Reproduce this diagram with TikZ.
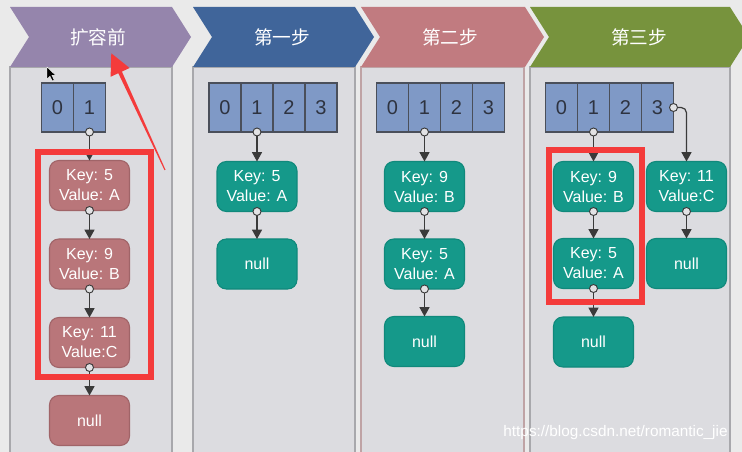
\documentclass[tikz,border=0pt]{standalone}
\usepackage{fontspec}
\setmainfont{Liberation Sans}
\newfontfamily\cjk{Noto Sans CJK SC}
\usetikzlibrary{arrows.meta}
\definecolor{bgc}{HTML}{EAEAEA}
\definecolor{panelc}{HTML}{DCDCE0}
\definecolor{panelb}{HTML}{A8A8AC}
\definecolor{panelpink}{HTML}{BFA3A5}
\definecolor{hpurple}{HTML}{9585AC}
\definecolor{hblue}{HTML}{40659A}
\definecolor{hpink}{HTML}{C17B80}
\definecolor{hgreen}{HTML}{77933D}
\definecolor{cellc}{HTML}{7F99C6}
\definecolor{cellb}{HTML}{4A4F5A}
\definecolor{digitc}{HTML}{2E3340}
\definecolor{pinknode}{HTML}{B9767A}
\definecolor{pinknodeb}{HTML}{A06468}
\definecolor{tealnode}{HTML}{15998A}
\definecolor{tealnodeb}{HTML}{10897B}
\definecolor{connc}{HTML}{3A3A3A}
\definecolor{dotc}{HTML}{E2E2E4}
\definecolor{redc}{HTML}{F43B3B}
\tikzset{
  panel/.style={fill=panelc, draw=panelb, line width=1.1pt},
  headtext/.style={text=white, font=\cjk\fontsize{14}{16}\selectfont, inner sep=0pt},
  cell/.style={draw=cellb, fill=cellc, line width=1.1pt, minimum width=24pt, minimum height=36.75pt, inner sep=0pt, outer sep=0pt, text=digitc, font=\fontsize{15}{17}\selectfont},
  entry/.style={rounded corners=7pt, minimum width=60pt, minimum height=37.5pt, inner sep=0pt, outer sep=0pt, align=center, text=white, font=\fontsize{12}{15}\selectfont, line width=0.8pt},
  oldentry/.style={entry, fill=pinknode, draw=pinknodeb},
  newentry/.style={entry, fill=tealnode, draw=tealnodeb},
  conn/.style={draw=connc, line width=0.9pt, -{Triangle[length=7pt,width=7.5pt]}},
  dot/.style={fill=dotc, draw=connc, line width=0.7pt},
  redbox/.style={draw=redc, line width=4.5pt},
}
\begin{document}
\begin{tikzpicture}[x=0.75pt,y=-0.75pt]
\useasboundingbox (0,0) rectangle (742,452);
\fill[bgc] (0,0) rectangle (742,452);
\begin{scope}
\clip (0,0) rectangle (742,452);
% panels
\path[panel] (10,67) rectangle (172,462);
\path[panel] (193,67) rectangle (355,462);
\path[panel, draw=panelpink] (361,67) rectangle (524,462);
\path[panel] (530,67) rectangle (730,462);
% header chevrons
\fill[hpurple] (10,7) -- (172,7) -- (191,37) -- (172,67) -- (10,67) -- (29,37) -- cycle;
\fill[hblue] (193,7) -- (355,7) -- (374,37) -- (355,67) -- (193,67) -- (212,37) -- cycle;
\fill[hpink] (361,7) -- (525,7) -- (544,37) -- (525,67) -- (361,67) -- (380,37) -- cycle;
\fill[hgreen] (530,7) -- (730,7) -- (749,37) -- (730,67) -- (530,67) -- (549,37) -- cycle;
\end{scope}
\node[headtext] (h1) at (98,37) {扩容前};
\node[headtext] (h2) at (282,37) {第一步};
\node[headtext] (h3) at (450,37) {第二步};
\node[headtext] (h4) at (639,37) {第三步};

% ---- panel 1 : before resize
\node[cell] (a0) at (57.5,107.5) {0};
\node[cell, anchor=west] (a1) at (a0.east) {1};
\node[oldentry] (p1) at (89.5,185.5) {Key: 5\\Value: A};
\node[oldentry] (p2) at (89.5,264) {Key: 9\\Value: B};
\node[oldentry] (p3) at (89.5,342.5) {Key: 11\\Value:C};
\node[oldentry] (p4) at (89.5,420.5) {null};
\draw[conn] (a1.south) -- (p1.north);
\draw[conn] (p1.south) -- (p2.north);
\draw[conn] (p2.south) -- (p3.north);
\draw[conn] (p3.south) -- (p4.north);
\foreach \n in {a1,p1,p2,p3} \filldraw[dot] (\n.south) circle (3pt);

% ---- panel 2 : step 1
\node[cell] (b0) at (225,107.5) {0};
\node[cell, anchor=west] (b1) at (b0.east) {1};
\node[cell, anchor=west] (b2) at (b1.east) {2};
\node[cell, anchor=west] (b3) at (b2.east) {3};
\node[newentry] (q1) at (257,186.5) {Key: 5\\Value: A};
\node[newentry] (q2) at (257,264) {null};
\draw[conn] (b1.south) -- (q1.north);
\draw[conn] (q1.south) -- (q2.north);
\foreach \n in {b1,q1} \filldraw[dot] (\n.south) circle (3pt);

% ---- panel 3 : step 2
\node[cell] (c0) at (392.5,107.5) {0};
\node[cell, anchor=west] (c1) at (c0.east) {1};
\node[cell, anchor=west] (c2) at (c1.east) {2};
\node[cell, anchor=west] (c3) at (c2.east) {3};
\node[newentry] (r1) at (424.5,186.5) {Key: 9\\Value: B};
\node[newentry] (r2) at (424.5,264) {Key: 5\\Value: A};
\node[newentry] (r3) at (424.5,341.5) {null};
\draw[conn] (c1.south) -- (r1.north);
\draw[conn] (r1.south) -- (r2.north);
\draw[conn] (r2.south) -- (r3.north);
\foreach \n in {c1,r1,r2} \filldraw[dot] (\n.south) circle (3pt);

% ---- panel 4 : step 3
\node[cell] (d0) at (561.5,107.5) {0};
\node[cell, anchor=west] (d1) at (d0.east) {1};
\node[cell, anchor=west] (d2) at (d1.east) {2};
\node[cell, anchor=west] (d3) at (d2.east) {3};
\node[newentry] (s1) at (593.5,186.5) {Key: 9\\Value: B};
\node[newentry] (s2) at (593.5,263.5) {Key: 5\\Value: A};
\node[newentry] (s3) at (593.5,342) {null};
\node[newentry] (t1) at (686.5,186.5) {Key: 11\\Value:C};
\node[newentry] (t2) at (686.5,263.5) {null};
\draw[conn] (d1.south) -- (s1.north);
\draw[conn] (s1.south) -- (s2.north);
\draw[conn] (s2.south) -- (s3.north);
\draw[conn, rounded corners=4pt] (d3.east) -| (t1.north);
\draw[conn] (t1.south) -- (t2.north);
\foreach \n in {d1,s1,s2,t1} \filldraw[dot] (\n.south) circle (3pt);
\filldraw[dot] (d3.east) circle (3pt);

% ---- red annotations
\draw[redbox] (37.7,151.7) rectangle (151,377.3);
\draw[redbox] (548.7,149.7) rectangle (642.3,302);
\fill[redc] (165.5,169.8) -- (121.9,71.6) -- (129.6,68.0) -- (111.3,53.3)
  -- (110.6,76.8) -- (118.3,73.2) -- (164.5,170.2) -- cycle;

% mouse cursor
\filldraw[fill=black, draw=white, line width=0.3pt] (47,67) -- (47,79) -- (50,76.2) -- (52.3,81) -- (54.2,80.2) -- (52,75.4) -- (55.8,75.4) -- cycle;

% watermark
\node[text=white, font=\fontsize{11.5}{13}\selectfont, inner sep=0pt] (wm) at (615.5,433) {https://blog.csdn.net/romantic\_jie};
\end{tikzpicture}
\end{document}
